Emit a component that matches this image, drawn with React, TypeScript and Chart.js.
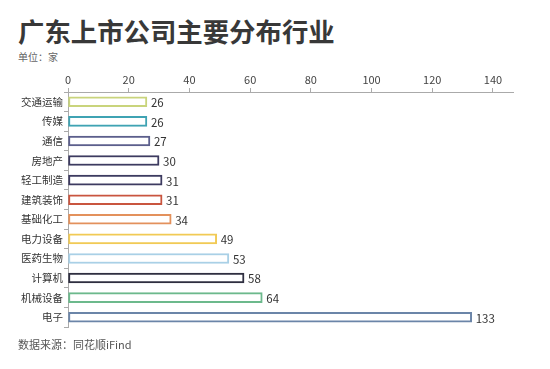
import React, { useEffect, useRef } from "react";
import { Chart, registerables } from "chart.js";

Chart.register(...registerables);

const categories = ["交通运输", "传媒", "通信", "房地产", "轻工制造", "建筑装饰", "基础化工", "电力设备", "医药生物", "计算机", "机械设备", "电子"];
const values = [26, 26, 27, 30, 31, 31, 34, 49, 53, 58, 64, 133];
const borderColors = ["#c9d47c", "#3fa3b3", "#5c5f8c", "#3d3b60", "#3d3b60", "#c9553f", "#e3915c", "#f1ca55", "#a9d0e6", "#2f2f40", "#6cb98c", "#6b85a8"];
const tickValues = [0, 20, 40, 60, 80, 100, 120, 140];

const FONT = "'Noto Sans CJK SC', 'Noto Sans', sans-serif";

const valueLabels = {
  id: "valueLabels",
  afterDatasetsDraw(chart: any) {
    const ctx = chart.ctx;
    const meta = chart.getDatasetMeta(0);
    ctx.save();
    ctx.font = `11.5px ${FONT}`;
    ctx.fillStyle = "#333";
    ctx.textAlign = "left";
    ctx.textBaseline = "middle";
    meta.data.forEach((el: any, i: number) => {
      ctx.fillText(String(values[i]), el.x + 4, el.y + 1);
    });
    ctx.restore();
  },
};

export default function App() {
  const ref = useRef<HTMLCanvasElement>(null);
  useEffect(() => {
    if (!ref.current) return;
    const chart = new Chart(ref.current, {
      type: "bar",
      data: {
        labels: categories,
        datasets: [
          {
            data: values,
            backgroundColor: "#ffffff",
            borderColor: borderColors,
            borderWidth: 2,
            borderSkipped: false,
            barThickness: 10,
          },
        ],
      },
      options: {
        indexAxis: "y",
        animation: false,
        responsive: false,
        maintainAspectRatio: false,
        layout: { padding: { top: 68, left: 0, right: 37, bottom: 42 } },
        plugins: { legend: { display: false }, tooltip: { enabled: false } },
        scales: {
          x: {
            position: "top",
            min: 0,
            max: 146.6,
            afterBuildTicks: (axis: any) => {
              axis.ticks = tickValues.map((v) => ({ value: v }));
            },
            afterFit: (scale: any) => {
              scale.height = 24;
            },
            grid: { drawOnChartArea: false, tickLength: 4, color: "#aaa" },
            border: { display: true, color: "#aaa", width: 1 },
            ticks: { padding: 2, color: "#444", font: { family: FONT, size: 11 } },
          },
          y: {
            afterFit: (scale: any) => {
              scale.width = 68;
            },
            grid: { drawOnChartArea: false, tickLength: 4, color: "#aaa" },
            border: { display: true, color: "#aaa", width: 1 },
            ticks: { padding: 1, color: "#333", font: { family: FONT, size: 10.5 } },
          },
        },
      },
      plugins: [valueLabels],
    });
    return () => chart.destroy();
  }, []);

  return (
    <div style={{ position: "fixed", left: 0, top: 0, width: 550, height: 369, background: "#fff", fontFamily: FONT }}>
      <div style={{ position: "absolute", left: 18, top: 17, fontSize: 26.4, lineHeight: "28px", fontWeight: "bold", color: "#383838" }}>
        广东上市公司主要分布行业
      </div>
      <div style={{ position: "absolute", left: 18, top: 50, fontSize: 10, lineHeight: "14px", color: "#666" }}>单位：家</div>
      <canvas ref={ref} width={550} height={369} style={{ position: "absolute", left: 0, top: 0 }} />
      <div style={{ position: "absolute", left: 18, top: 337, fontSize: 11, lineHeight: "14px", color: "#555" }}>
        数据来源：同花顺iFind
      </div>
    </div>
  );
}
